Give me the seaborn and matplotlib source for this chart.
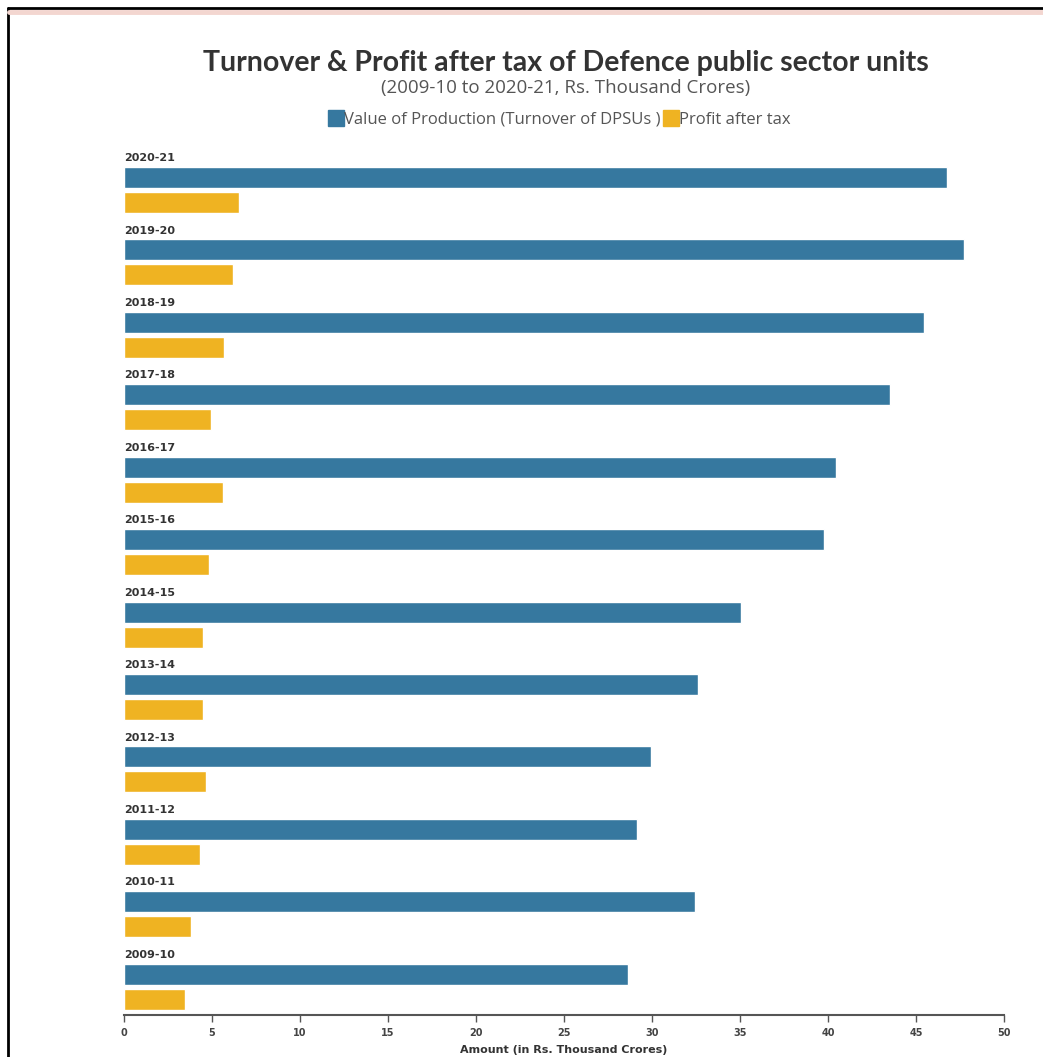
import matplotlib
matplotlib.use("Agg")
import matplotlib.pyplot as plt
from matplotlib.lines import Line2D
import seaborn as sns
import pandas as pd

years = ["2020-21", "2019-20", "2018-19", "2017-18", "2016-17", "2015-16",
         "2014-15", "2013-14", "2012-13", "2011-12", "2010-11", "2009-10"]
turnover = [46.76, 47.70, 45.45, 43.50, 40.45, 39.77, 35.06, 32.60, 29.94, 29.15, 32.44, 28.64]
profit = [6.53, 6.19, 5.68, 4.94, 5.63, 4.83, 4.49, 4.49, 4.66, 4.32, 3.81, 3.47]
series_names = ["Value of Production (Turnover of DPSUs )", "Profit after tax"]
xticks = [0, 5, 10, 15, 20, 25, 30, 35, 40, 45, 50]

BLUE = "#36789F"
ORANGE = "#EFB322"

df = pd.DataFrame({
    "Year": years * 2,
    "Amount": turnover + profit,
    "Series": [series_names[0]] * len(years) + [series_names[1]] * len(years),
})

sns.set_style("white")
plt.rcParams["font.family"] = ["Open Sans", "DejaVu Sans"]

W, H = 1043, 1057
fig = plt.figure(figsize=(W / 100, H / 100), dpi=100)
ax = fig.add_axes([124 / W, 1 - 1015 / H, (1004 - 124) / W, (1015 - 146.5) / H])

sns.barplot(data=df, y="Year", x="Amount", hue="Series", order=years,
            hue_order=series_names, palette=[BLUE, ORANGE], orient="h",
            width=0.69, gap=0.16, ax=ax, legend=False, saturation=1)

ax.set_xlim(0, 50)
ax.set_ylim(11.39, -0.6)
ax.set_xticks(xticks)
ax.set_xticklabels([str(t) for t in xticks], fontsize=7, color="#444444",
                   fontweight="bold", family="DejaVu Sans")
ax.set_yticks([])
ax.set_ylabel("")
ax.set_xlabel("")
for s in ["top", "right", "left"]:
    ax.spines[s].set_visible(False)
ax.spines["bottom"].set_color("#555555")
ax.spines["bottom"].set_linewidth(1.5)
ax.tick_params(axis="x", direction="out", length=5, width=1, color="#555555", pad=4,
               bottom=True)

fig.text(564 / W, 1 - 1050 / H, "Amount (in Rs. Thousand Crores)", ha="center", va="center",
         fontsize=8, fontweight="bold", color="#333333", family="DejaVu Sans")

for i, y in enumerate(years):
    ax.text(0, i - 0.44, y, fontsize=8, fontweight="bold", color="#333333",
            va="center", ha="left", family="DejaVu Sans")

fig.text(566 / W, 1 - 63 / H, "Turnover & Profit after tax of Defence public sector units",
         ha="center", va="center", fontsize=20.5, fontweight="bold", color="#333333",
         family="Lato")
fig.text(566 / W, 1 - 88 / H, "(2009-10 to 2020-21, Rs. Thousand Crores)",
         ha="center", va="center", fontsize=13.5, color="#555555")

handles = [Line2D([], [], marker="s", linestyle="", markersize=11,
                  markerfacecolor=c, markeredgecolor=c) for c in [BLUE, ORANGE]]
fig.legend(handles, series_names, loc="center", bbox_to_anchor=(560 / W, 1 - 120 / H),
           ncol=2, frameon=False, fontsize=12, handlelength=0.8, handletextpad=0.1,
           columnspacing=0.2, labelcolor="#555555")

# page frame
fig.add_artist(Line2D([8 / W, 8 / W], [0, 1 - 8 / H], color="black", lw=2,
                      transform=fig.transFigure))
fig.add_artist(Line2D([8 / W, 1], [1 - 8 / H, 1 - 8 / H], color="black", lw=2,
                      transform=fig.transFigure))
fig.add_artist(Line2D([9 / W, 1], [1 - 12 / H, 1 - 12 / H], color="#F3D6D0", lw=3.5,
                      transform=fig.transFigure))

fig.savefig("out.png", dpi=100, facecolor="white")
